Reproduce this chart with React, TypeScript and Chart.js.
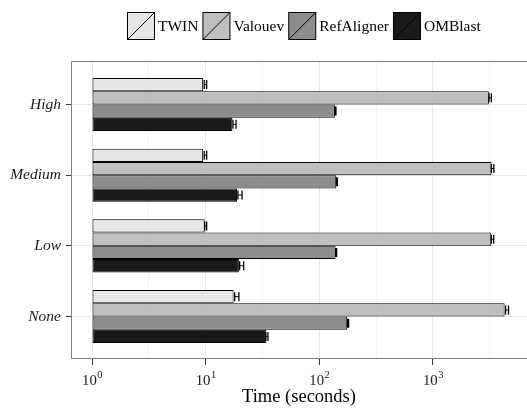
import React, { useEffect, useRef } from 'react';
import { Chart, registerables } from 'chart.js';

Chart.register(...registerables);

// ---------- data ----------
const categories = ['High', 'Medium', 'Low', 'None'];
const seriesNames = ['TWIN', 'Valouev', 'RefAligner', 'OMBlast'];
const seriesColors = ['#e6e6e6', '#bfbfbf', '#8c8c8c', '#1a1a1a'];

const twin = [9.5, 9.5, 9.8, 17.6];
const valouev = [3100, 3275, 3256, 4265];
const refAligner = [137, 141, 139, 176];
const omblast = [17.2, 18.9, 19.6, 34.2];

const twinLow = [9.7, 9.7, 9.8, 18.0];
const twinHigh = [10.2, 10.2, 10.2, 19.6];
const valouevLow = [3110, 3260, 3256, 4350];
const valouevHigh = [3260, 3430, 3420, 4620];
const refAlignerLow = [137, 141, 139, 177];
const refAlignerHigh = [140, 144, 142, 181];
const omblastLow = [17.4, 19.2, 19.9, 33.8];
const omblastHigh = [18.5, 20.9, 21.6, 35.3];

const xMajorTicks = [1, 10, 100, 1000];
const xMajorExponents = ['0', '1', '2', '3'];
const xMinorTicks = [3.162, 31.62, 316.2, 3162];
const xMin = 0.6535;
const xMax = 6714;
const xTitle = 'Time (seconds)';

const seriesValues = [twin, valouev, refAligner, omblast];
const seriesLow = [twinLow, valouevLow, refAlignerLow, omblastLow];
const seriesHigh = [twinHigh, valouevHigh, refAlignerHigh, omblastHigh];

const FONT = '"Liberation Serif", "Times New Roman", serif';

const isMajor = (v: number) => xMajorTicks.some((m) => Math.abs(m - v) / m < 1e-6);

const panelPlugin = {
  id: 'panelBorder',
  beforeDatasetsDraw(chart: any) {
    const { ctx, chartArea } = chart;
    ctx.save();
    ctx.strokeStyle = '#7f7f7f';
    ctx.lineWidth = 1;
    ctx.beginPath();
    const l = Math.round(chartArea.left) + 0.5;
    const t = Math.round(chartArea.top) - 0.5;
    const b = Math.round(chartArea.bottom) - 0.5;
    ctx.moveTo(chart.width + 2, t);
    ctx.lineTo(l, t);
    ctx.lineTo(l, b);
    ctx.lineTo(chart.width + 2, b);
    ctx.stroke();
    ctx.restore();
  },
};

const errorBarPlugin = {
  id: 'errorBars',
  afterDatasetsDraw(chart: any) {
    const { ctx } = chart;
    const xs = chart.scales.x;
    ctx.save();
    ctx.strokeStyle = '#000';
    chart.data.datasets.forEach((ds: any, s: number) => {
      const meta = chart.getDatasetMeta(s);
      meta.data.forEach((el: any, i: number) => {
        const x1 = xs.getPixelForValue(seriesLow[s][i]);
        const x2 = xs.getPixelForValue(seriesHigh[s][i]);
        const y = el.y;
        const h = 4.5;
        ctx.lineWidth = 1;
        ctx.beginPath();
        ctx.moveTo(x1, y);
        ctx.lineTo(x2, y);
        ctx.stroke();
        ctx.lineWidth = 1.3;
        ctx.beginPath();
        ctx.moveTo(x1, y - h);
        ctx.lineTo(x1, y + h);
        ctx.moveTo(x2, y - h);
        ctx.lineTo(x2, y + h);
        ctx.stroke();
      });
    });
    ctx.restore();
  },
};

const textPlugin = {
  id: 'customText',
  afterDraw(chart: any) {
    const { ctx, chartArea } = chart;
    const xs = chart.scales.x;
    ctx.save();
    // x tick labels 10^k
    ctx.fillStyle = '#1a1a1a';
    ctx.textBaseline = 'alphabetic';
    ctx.textAlign = 'left';
    xMajorTicks.forEach((v, k) => {
      const px = xs.getPixelForValue(v);
      ctx.font = `14.8px ${FONT}`;
      const wBase = ctx.measureText('10').width;
      ctx.font = `10.5px ${FONT}`;
      const wExp = ctx.measureText(xMajorExponents[k]).width;
      const start = px - (wBase + wExp) / 2;
      ctx.font = `14.8px ${FONT}`;
      ctx.fillText('10', start, 385);
      ctx.font = `10.5px ${FONT}`;
      ctx.fillText(xMajorExponents[k], start + wBase + 0.5, 378);
    });
    // x axis title
    ctx.font = `18.5px ${FONT}`;
    ctx.textAlign = 'center';
    ctx.fillStyle = '#000';
    ctx.fillText(xTitle, (chartArea.left + chartArea.right) / 2, 402);

    // legend
    ctx.font = `15.5px ${FONT}`;
    ctx.textAlign = 'left';
    ctx.textBaseline = 'middle';
    const box = 27;
    const gapText = 4;
    const gapItem = 4;
    const widths = seriesNames.map((n) => ctx.measureText(n).width);
    const total =
      widths.reduce((a, w) => a + box + gapText + w, 0) + gapItem * (seriesNames.length - 1);
    let x = Math.round(303.5 - total / 2);
    const top = 12;
    seriesNames.forEach((name, s) => {
      ctx.fillStyle = seriesColors[s];
      ctx.fillRect(x + 0.5, top + 0.5, box, box);
      ctx.strokeStyle = '#000';
      ctx.lineWidth = 1;
      ctx.strokeRect(x + 0.5, top + 0.5, box, box);
      ctx.beginPath();
      ctx.moveTo(x + 1, top + box);
      ctx.lineTo(x + box, top + 1);
      ctx.stroke();
      ctx.fillStyle = '#000';
      ctx.fillText(name, x + box + gapText, top + box / 2 + 1);
      x += box + gapText + widths[s] + gapItem;
    });
    ctx.restore();
  },
};

export default function App() {
  const ref = useRef<HTMLCanvasElement | null>(null);

  useEffect(() => {
    const canvas = ref.current;
    if (!canvas) return;
    const chart = new Chart(canvas, {
      type: 'bar',
      data: {
        datasets: seriesValues.map((vals, s) => ({
          label: seriesNames[s],
          data: vals.map((v, i) => ({ x: v, y: i })),
          backgroundColor: seriesColors[s],
          borderColor: '#000',
          borderWidth: 1,
          borderSkipped: false,
          base: 1,
          categoryPercentage: 0.75,
          barPercentage: 1,
        })),
      } as any,
      options: {
        indexAxis: 'y',
        animation: false,
        responsive: false,
        maintainAspectRatio: false,
        devicePixelRatio: 1,
        layout: { padding: { top: 62, left: 0, right: 0, bottom: 0 } },
        plugins: {
          legend: { display: false },
          tooltip: { enabled: false },
        },
        scales: {
          x: {
            type: 'logarithmic',
            min: xMin,
            max: xMax,
            border: { display: false },
            afterBuildTicks: (scale: any) => {
              const all = [...xMajorTicks, ...xMinorTicks].sort((a, b) => a - b);
              scale.ticks = all.map((v) => ({ value: v, major: isMajor(v) }));
            },
            afterFit: (scale: any) => {
              scale.height = 51;
              scale.paddingLeft = 0;
              scale.paddingRight = 0;
            },
            ticks: { display: false },
            grid: {
              drawTicks: true,
              tickLength: 6,
              color: (c: any) => (isMajor(c.tick?.value) ? '#e6e6e6' : '#f3f3f3'),
              lineWidth: 1,
              tickColor: (c: any) => (isMajor(c.tick?.value) ? '#333333' : 'rgba(0,0,0,0)'),
              tickWidth: 1,
            },
          },
          y: {
            type: 'linear',
            min: -0.6,
            max: 3.6,
            reverse: true,
            offset: false,
            border: { display: false },
            afterBuildTicks: (scale: any) => {
              scale.ticks = categories.map((_, i) => ({ value: i }));
            },
            afterFit: (scale: any) => {
              scale.width = 71;
              scale.paddingTop = 0;
              scale.paddingBottom = 0;
            },
            ticks: {
              callback: (v: any) => categories[Math.round(Number(v))] ?? '',
              font: { family: FONT, size: 15.5, style: 'italic' },
              color: '#1a1a1a',
              padding: 5,
            },
            grid: {
              offset: false,
              drawTicks: true,
              tickLength: 5,
              color: '#e6e6e6',
              lineWidth: 1,
              tickColor: '#333333',
              tickWidth: 1,
            },
          },
        },
      } as any,
      plugins: [panelPlugin, errorBarPlugin, textPlugin],
    });
    return () => chart.destroy();
  }, []);

  return (
    <div style={{ position: 'absolute', left: 0, top: 0, width: 527, height: 410, background: '#fff' }}>
      <canvas ref={ref} width={527} height={410} style={{ display: 'block', width: 527, height: 410 }} />
    </div>
  );
}
